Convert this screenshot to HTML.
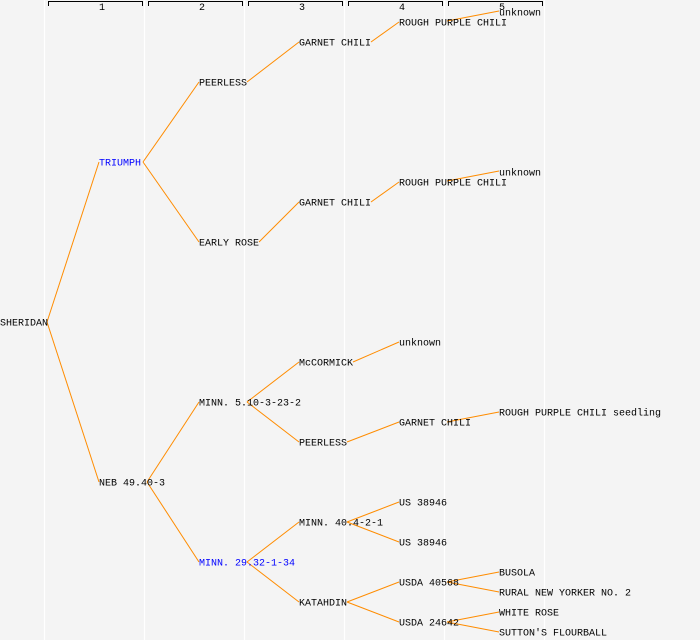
<!DOCTYPE html>
<html><head><style>
html,body{margin:0;padding:0;background:#f4f4f4;}
svg{display:block;}
text{font-family:"Liberation Mono",monospace;font-size:10px;}
</style></head><body>
<svg width="700" height="640" xmlns="http://www.w3.org/2000/svg">
<rect width="700" height="640" fill="#f4f4f4"/>
<g stroke="#fff" stroke-width="1.2">
<line x1="44.5" y1="0" x2="44.5" y2="640"/><line x1="144.5" y1="0" x2="144.5" y2="640"/>
<line x1="244.5" y1="0" x2="244.5" y2="640"/><line x1="344.5" y1="0" x2="344.5" y2="640"/>
<line x1="444.5" y1="0" x2="444.5" y2="640"/><line x1="544.5" y1="0" x2="544.5" y2="640"/>
</g>
<g stroke="#000" stroke-width="1" fill="none">
<path d="M48.5 6V1.5H142.5V6"/><path d="M148.5 6V1.5H242.5V6"/><path d="M248.5 6V1.5H342.5V6"/>
<path d="M348.5 6V1.5H442.5V6"/><path d="M448.5 6V1.5H542.5V6"/>
</g>
<g style="font-size:8px" text-anchor="middle">
<text x="102" y="10">1</text><text x="202" y="10">2</text><text x="302" y="10">3</text><text x="402" y="10">4</text><text x="502" y="10">5</text>
</g>
<g stroke="#ff8c00" stroke-width="1" fill="none">
<line x1="47" y1="322" x2="99" y2="162"/><line x1="47" y1="322" x2="99" y2="482"/>
<line x1="143" y1="162" x2="199" y2="82"/><line x1="143" y1="162" x2="199" y2="242"/>
<line x1="247" y1="82" x2="299" y2="42"/><line x1="259" y1="242" x2="299" y2="202"/>
<line x1="371" y1="42" x2="399" y2="22"/><line x1="371" y1="202" x2="399" y2="182"/>
<line x1="447" y1="21" x2="499" y2="11"/><line x1="447" y1="181" x2="499" y2="171"/>
<line x1="147" y1="482" x2="199" y2="402"/><line x1="147" y1="482" x2="199" y2="562"/>
<line x1="247" y1="402" x2="299" y2="362"/><line x1="247" y1="402" x2="299" y2="442"/>
<line x1="353" y1="362" x2="399" y2="342"/><line x1="347" y1="442" x2="399" y2="422"/>
<line x1="447" y1="422" x2="499" y2="412"/>
<line x1="247" y1="562" x2="299" y2="522"/><line x1="247" y1="562" x2="299" y2="602"/>
<line x1="347" y1="522" x2="399" y2="502"/><line x1="347" y1="522" x2="399" y2="542"/>
<line x1="347" y1="602" x2="399" y2="582"/><line x1="347" y1="602" x2="399" y2="622"/>
<line x1="447" y1="582" x2="499" y2="572"/><line x1="447" y1="582" x2="499" y2="592"/>
<line x1="447" y1="622" x2="499" y2="612"/><line x1="447" y1="622" x2="499" y2="632"/>
</g>
<g fill="#000" transform="translate(0,3.5)">
<text x="0" y="322">SHERIDAN</text>
<text x="99" y="162" fill="#0000ff">TRIUMPH</text>
<text x="199" y="82">PEERLESS</text>
<text x="299" y="42">GARNET CHILI</text>
<text x="399" y="22">ROUGH PURPLE CHILI</text>
<text x="499" y="12">unknown</text>
<text x="199" y="242">EARLY ROSE</text>
<text x="299" y="202">GARNET CHILI</text>
<text x="399" y="182">ROUGH PURPLE CHILI</text>
<text x="499" y="172">unknown</text>
<text x="99" y="482">NEB 49.40-3</text>
<text x="199" y="402">MINN. 5.10-3-23-2</text>
<text x="299" y="362">McCORMICK</text>
<text x="399" y="342">unknown</text>
<text x="299" y="442">PEERLESS</text>
<text x="399" y="422">GARNET CHILI</text>
<text x="499" y="412">ROUGH PURPLE CHILI seedling</text>
<text x="199" y="562" fill="#0000ff">MINN. 29.32-1-34</text>
<text x="299" y="522">MINN. 40.4-2-1</text>
<text x="399" y="502">US 38946</text>
<text x="399" y="542">US 38946</text>
<text x="299" y="602">KATAHDIN</text>
<text x="399" y="582">USDA 40568</text>
<text x="499" y="572">BUSOLA</text>
<text x="499" y="592">RURAL NEW YORKER NO. 2</text>
<text x="399" y="622">USDA 24642</text>
<text x="499" y="612">WHITE ROSE</text>
<text x="499" y="632">SUTTON'S FLOURBALL</text>
</g>
</svg>
</body></html>
